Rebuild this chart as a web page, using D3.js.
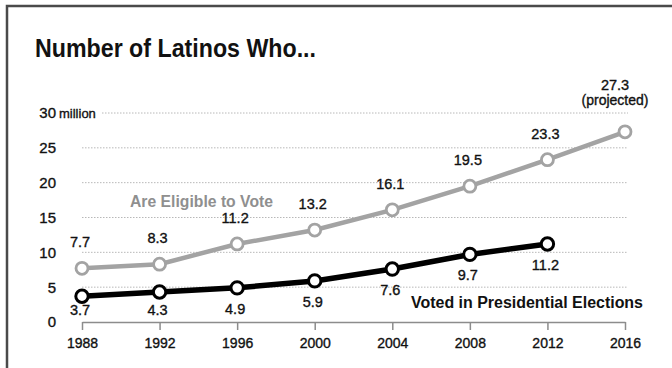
<!DOCTYPE html>
<html>
<head>
<meta charset="utf-8">
<script src="https://cdn.jsdelivr.net/npm/d3@7"></script>
<style>
  html, body { margin: 0; padding: 0; background: #fff; }
  svg { display: block; }
  text { font-family: "Liberation Sans", Arial, sans-serif; }
  .num { stroke: #111; stroke-width: 0.35px; }
</style>
</head>
<body>
<svg id="chart" width="672" height="368"></svg>
<script>
// Election years shown on the x axis
const years = [1988, 1992, 1996, 2000, 2004, 2008, 2012, 2016];
// Latinos eligible to vote (millions); 2016 is a projection
const eligible = [7.7, 8.3, 11.2, 13.2, 16.1, 19.5, 23.3, 27.3];
// Latinos who voted in presidential elections (millions)
const voted = [3.7, 4.3, 4.9, 5.9, 7.6, 9.7, 11.2];
// Y axis tick values
const yTicks = [0, 5, 10, 15, 20, 25, 30];

const svg = d3.select("#chart");
const W = 672, H = 368;

// frame (left and top edges)
svg.append("path")
  .attr("d", `M7,${H} V6 H${W}`)
  .attr("fill", "none")
  .attr("stroke", "#4a4a4a")
  .attr("stroke-width", 2.5);

const x = d3.scaleLinear().domain([1988, 2016]).range([82, 625]);
const y = d3.scaleLinear().domain([0, 30]).range([322, 113]);

// title
svg.append("text")
  .attr("x", 35).attr("y", 57)
  .attr("font-size", 25).attr("font-weight", "bold")
  .attr("fill", "#111")
  .attr("textLength", 281).attr("lengthAdjust", "spacingAndGlyphs")
  .text("Number of Latinos Who...");

// dotted gridlines
svg.append("g").selectAll("line")
  .data(yTicks.filter(d => d > 0))
  .join("line")
  .attr("x1", d => d === 30 ? 102 : 82)
  .attr("x2", 628)
  .attr("y1", d => y(d)).attr("y2", d => y(d))
  .attr("stroke", "#b8b8b8")
  .attr("stroke-width", 1)
  .attr("stroke-dasharray", "1.5,1.5");

// y tick labels
const yl = svg.append("g");
yl.selectAll("text")
  .data(yTicks)
  .join("text")
  .attr("class", "num")
  .attr("x", 56)
  .attr("y", d => y(d))
  .attr("dy", "0.36em")
  .attr("text-anchor", "end")
  .attr("font-size", 15)
  .attr("fill", "#111")
  .text(d => d);
yl.append("text")
  .attr("class", "num")
  .attr("x", 59).attr("y", y(30)).attr("dy", "0.36em")
  .attr("font-size", 13).attr("fill", "#111")
  .text("million");

// x axis
const xAxis = d3.axisBottom(x)
  .tickValues(years)
  .tickFormat(d3.format("d"))
  .tickSize(8)
  .tickSizeOuter(0)
  .tickPadding(8);
const gx = svg.append("g")
  .attr("transform", `translate(0,${y(0)})`)
  .call(xAxis);
gx.select(".domain").attr("stroke", "#8c8c8c").attr("stroke-width", 1.5);
gx.selectAll(".tick line").attr("stroke", "#8c8c8c").attr("stroke-width", 1.5);
gx.selectAll(".tick text")
  .attr("class", "num")
  .attr("font-family", "Liberation Sans, Arial, sans-serif")
  .attr("font-size", 14)
  .attr("fill", "#111");

const line = d3.line()
  .x((d, i) => x(years[i]))
  .y(d => y(d));

// eligible series
svg.append("path")
  .datum(eligible)
  .attr("d", line)
  .attr("fill", "none")
  .attr("stroke", "#a3a3a3")
  .attr("stroke-width", 4.5);
svg.append("g").selectAll("circle")
  .data(eligible)
  .join("circle")
  .attr("cx", (d, i) => x(years[i]))
  .attr("cy", d => y(d))
  .attr("r", 6)
  .attr("fill", "#fff")
  .attr("stroke", "#a3a3a3")
  .attr("stroke-width", 2.8);

// voted series
svg.append("path")
  .datum(voted)
  .attr("d", line)
  .attr("fill", "none")
  .attr("stroke", "#000")
  .attr("stroke-width", 5.5);
svg.append("g").selectAll("circle")
  .data(voted)
  .join("circle")
  .attr("cx", (d, i) => x(years[i]))
  .attr("cy", d => y(d))
  .attr("r", 6.2)
  .attr("fill", "#fff")
  .attr("stroke", "#000")
  .attr("stroke-width", 3);

// value labels: eligible above the line, voted below it
const fmt = d3.format(".1f");
const last = eligible.length - 1;
svg.append("g").selectAll("text")
  .data(eligible)
  .join("text")
  .attr("class", "num")
  .attr("x", (d, i) => x(years[i]) - (i === last ? 10 : 2))
  .attr("y", (d, i) => y(d) - (i === last ? 42 : 21))
  .attr("text-anchor", "middle")
  .attr("font-size", 14.5)
  .attr("fill", "#111")
  .text(fmt);
svg.append("text")
  .attr("class", "num")
  .attr("x", x(2016) - 10)
  .attr("y", y(eligible[last]) - 27)
  .attr("text-anchor", "middle")
  .attr("font-size", 14)
  .attr("fill", "#111")
  .text("(projected)");

svg.append("g").selectAll("text")
  .data(voted)
  .join("text")
  .attr("class", "num")
  .attr("x", (d, i) => x(years[i]) - 2)
  .attr("y", d => Math.min(y(d) + 26, 315))
  .attr("text-anchor", "middle")
  .attr("font-size", 14.5)
  .attr("fill", "#111")
  .text(fmt);

// series names
svg.append("text")
  .attr("x", 130).attr("y", 207)
  .attr("font-size", 16).attr("font-weight", "bold")
  .attr("fill", "#8f8f8f")
  .attr("textLength", 143).attr("lengthAdjust", "spacingAndGlyphs")
  .text("Are Eligible to Vote");
svg.append("text")
  .attr("x", 411).attr("y", 308)
  .attr("font-size", 16).attr("font-weight", "bold")
  .attr("fill", "#111")
  .attr("textLength", 232).attr("lengthAdjust", "spacingAndGlyphs")
  .text("Voted in Presidential Elections");
</script>
</body>
</html>
